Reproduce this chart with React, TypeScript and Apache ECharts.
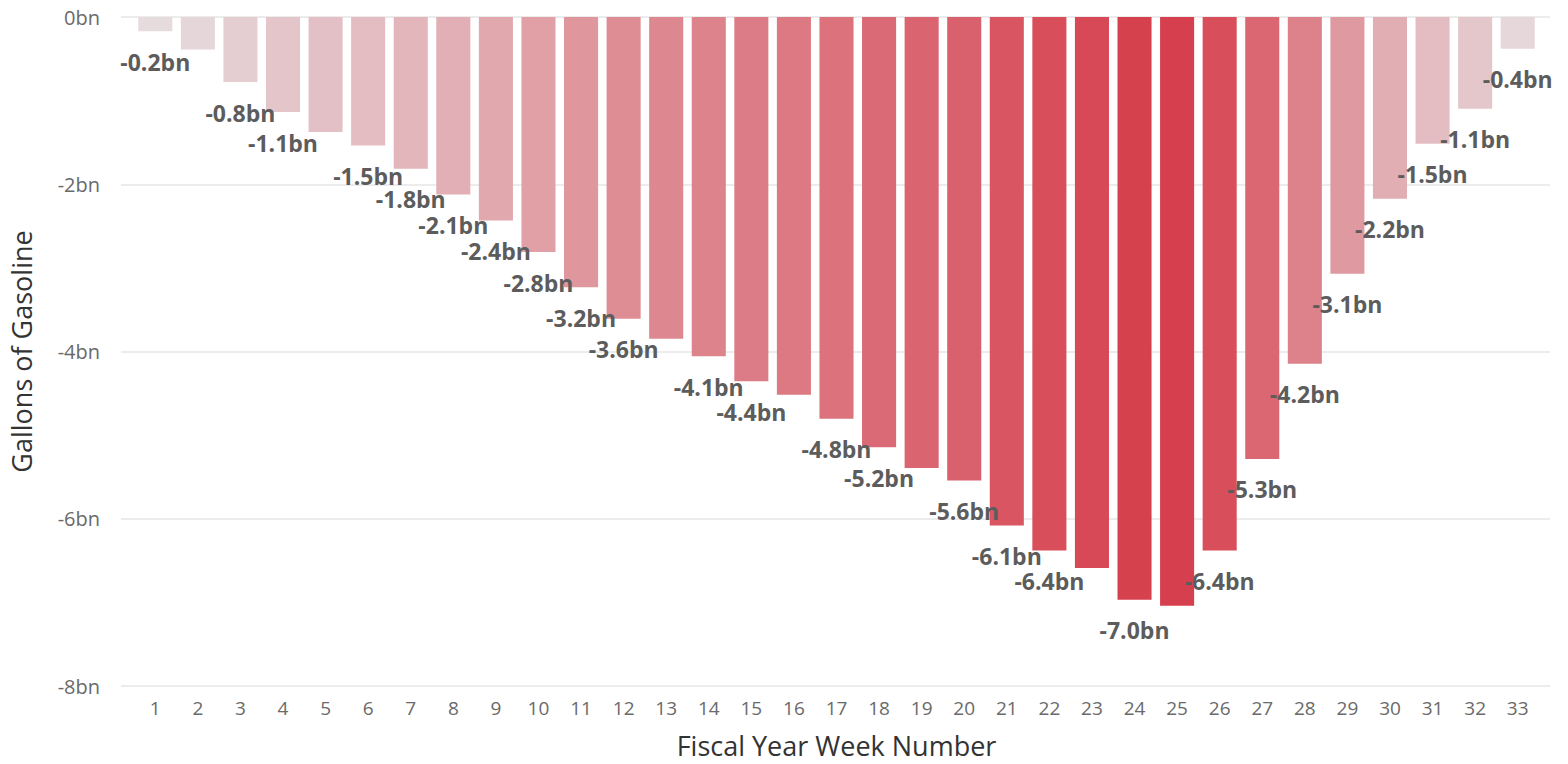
import React, { useEffect, useRef } from "react";
import * as echarts from "echarts";

const weeks: string[] = Array.from({ length: 33 }, (_, i) => String(i + 1));
const values: number[] = [
  -0.17, -0.39, -0.78, -1.14, -1.38, -1.54, -1.82, -2.13, -2.44, -2.82, -3.24,
  -3.62, -3.86, -4.07, -4.37, -4.53, -4.82, -5.16, -5.41, -5.56, -6.1, -6.4,
  -6.61, -6.99, -7.06, -6.4, -5.3, -4.16, -3.08, -2.18, -1.52, -1.1, -0.38,
];
const hiddenLabelWeeks: number[] = [2, 5, 13, 16, 19, 23, 25];
const yTicks: number[] = [0, -2, -4, -6, -8];

export default function App() {
  const ref = useRef<HTMLDivElement>(null);
  useEffect(() => {
    if (!ref.current) return;
    const chart = echarts.init(ref.current, undefined, { renderer: "svg" });
    const font = "'Open Sans', 'Noto Sans', sans-serif";
    const yMin = yTicks[yTicks.length - 1];
    const yMax = yTicks[0];
    chart.setOption({
      animation: false,
      textStyle: { fontFamily: font },
      grid: [
        { left: 120, right: 18, top: 17, bottom: 78 },
        { left: 134, right: 29, top: 17, bottom: 78 },
      ],
      visualMap: {
        show: false,
        type: "continuous",
        seriesIndex: 0,
        min: Math.min(...values),
        max: Math.max(...values),
        dimension: 1,
        inRange: { color: ["#d63f4d", "#e6dcde"] },
      },
      xAxis: [
        {
          gridIndex: 0,
          type: "value",
          show: false,
          min: 0,
          max: 1,
        },
        {
          gridIndex: 1,
          type: "category",
          data: weeks,
          axisLine: { show: false },
          axisTick: { show: false },
          axisLabel: { color: "#6a6a6a", fontSize: 19, margin: 14, fontFamily: font },
          name: "Fiscal Year Week Number",
          nameLocation: "middle",
          nameGap: 48,
          nameTextStyle: { color: "#333", fontSize: 27, fontFamily: font },
        },
      ],
      yAxis: [
        {
          gridIndex: 0,
          type: "value",
          min: yMin,
          max: yMax,
          interval: 2,
          axisLine: { show: false },
          axisTick: { show: false },
          splitLine: { lineStyle: { color: "#ececec", width: 2 } },
          axisLabel: {
            color: "#6a6a6a",
            fontSize: 20,
            margin: 21,
            fontFamily: font,
            formatter: (v: number) => `${v}bn`,
          },
          name: "Gallons of Gasoline",
          nameLocation: "middle",
          nameGap: 86,
          nameTextStyle: { color: "#333", fontSize: 27, fontFamily: font },
        },
        {
          gridIndex: 1,
          type: "value",
          min: yMin,
          max: yMax,
          interval: 2,
          show: false,
          splitLine: { show: false },
        },
      ],
      series: [
        {
          type: "bar",
          xAxisIndex: 1,
          yAxisIndex: 1,
          barCategoryGap: "20%",
          data: values.map((v, i) => ({
            value: v,
            label: { show: !hiddenLabelWeeks.includes(i + 1) },
          })),
          label: {
            show: true,
            position: "bottom",
            distance: 19,
            color: "#5c5c5c",
            fontSize: 23,
            fontWeight: "bold",
            fontFamily: font,
            formatter: (p: any) => `${p.value.toFixed(1)}bn`,
          },
        },
      ],
    });
    return () => chart.dispose();
  }, []);
  return (
    <div
      ref={ref}
      style={{ position: "fixed", left: 0, top: 0, width: 1568, height: 764, background: "#fff" }}
    />
  );
}
